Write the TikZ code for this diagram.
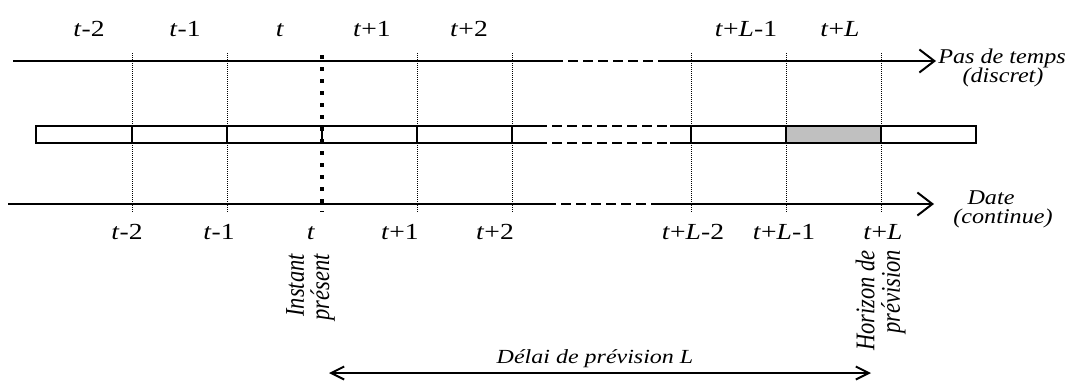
\documentclass[tikz,border=0pt]{standalone}
\usepackage{fontspec}
\setmainfont{Liberation Serif}
\newfontfamily\widefont{Liberation Serif}[FakeStretch=1.2]
\newfontfamily\sidefont{Liberation Serif}[FakeStretch=1.15]
\newfontfamily\spanfont{Liberation Serif}[FakeStretch=1.2]
\usetikzlibrary{arrows.meta}
\newcommand\tv{\textit{t}}
\newcommand\Lv{\textit{L}}
\newcommand\vlabel[2]{\scalebox{1}[1.2]{\begin{tabular}{@{}r@{}}#1\\#2\end{tabular}}}
\definecolor{cellgray}{RGB}{192,192,192}
\begin{document}
\begin{tikzpicture}[x=1pt,y=-1pt,
  lbl/.style={font=\widefont\fontsize{23}{23}\selectfont, inner sep=0pt, anchor=base},
  side/.style={font=\sidefont\fontsize{21}{19}\selectfont\itshape, inner sep=0pt, anchor=base},
  vert/.style={font=\fontsize{22.5}{18.5}\selectfont\itshape, inner sep=0pt, anchor=east, rotate=90},
  axisline/.style={line width=2pt},
  axisdash/.style={line width=2pt, dash pattern=on 10pt off 5pt},
  gridline/.style={line width=1pt, dash pattern=on 1pt off 1pt},
  nowline/.style={line width=4pt, dash pattern=on 4pt off 8pt},
  barline/.style={line width=2pt},
  axistip/.style={-{Straight Barb[length=15pt,width=23pt,line width=2pt]}},
  spantip/.style={{Straight Barb[length=13pt,width=13pt,line width=2pt]}-{Straight Barb[length=13pt,width=13pt,line width=2pt]}}
]
\useasboundingbox (0,0) rectangle (1068,381);

% coordinates
\coordinate (a0) at (13,61);
\coordinate (a1) at (553,61);
\coordinate (a2) at (660,61);
\coordinate (a3) at (936,61);
\coordinate (b0) at (8,204);
\coordinate (b1) at (546,204);
\coordinate (b2) at (653,204);
\coordinate (b3) at (934,204);
\coordinate (dA) at (329,373);
\coordinate (dB) at (871,373);

% dotted verticals
\foreach \x in {132,227,417,512,691,786,881}
  \draw[gridline] (\x,53) -- (\x,212);

% gray cell
\fill[cellgray] (786,126) rectangle (881,143);

% bar
\draw[barline] (537,126) -- (36,126) -- (36,143) -- (537,143);
\draw[axisdash] (537,126) -- (670,126);
\draw[axisdash] (537,143) -- (670,143);
\draw[barline] (670,126) -- (976,126) -- (976,143) -- (670,143);
\foreach \x in {132,227,322,417,512,691,786,881}
  \draw[barline] (\x,126) -- (\x,143);

% present instant
\draw[nowline] (322,55) -- (322,212);

% axes
\draw[axisline] (a0) -- (a1);
\draw[axisdash] (a1) -- (a2);
\draw[axisline, axistip] (a2) -- (a3);
\draw[axisline] (b0) -- (b1);
\draw[axisdash] (b1) -- (b2);
\draw[axisline, axistip] (b2) -- (b3);

% top labels
\node[lbl] (u1) at (89,36) {\tv-2};
\node[lbl] (u2) at (185,36) {\tv-1};
\node[lbl] (u3) at (280,36) {\tv};
\node[lbl] (u4) at (372,36) {\tv+1};
\node[lbl] (u5) at (469,36) {\tv+2};
\node[lbl] (u6) at (746,36) {\tv+\Lv-1};
\node[lbl] (u7) at (840,36) {\tv+\Lv};

% bottom labels
\node[lbl] (v1) at (127,239) {\tv-2};
\node[lbl] (v2) at (219,239) {\tv-1};
\node[lbl] (v3) at (311,239) {\tv};
\node[lbl] (v4) at (400,239) {\tv+1};
\node[lbl] (v5) at (495,239) {\tv+2};
\node[lbl] (v6) at (693,239) {\tv+\Lv-2};
\node[lbl] (v7) at (784,239) {\tv+\Lv-1};
\node[lbl] (v8) at (883,239) {\tv+\Lv};

% side labels
\node[side] (pas1) at (1002,63) {Pas de temps};
\node[side] (pas2) at (1003,82) {(discret)};
\node[side] (date1) at (991,204) {Date};
\node[side] (date2) at (1003,223) {(continue)};

% vertical labels
\node[vert] (inst) at (311,254) {\vlabel{Instant}{présent}};
\node[vert] (hor) at (881,250) {\vlabel{Horizon de}{prévision}};

% delay
\node[font=\spanfont\fontsize{20}{20}\selectfont\itshape, inner sep=0pt, anchor=base] (delai) at (595,363) {Délai de prévision L};
\draw[axisline, spantip] (dA) -- (dB);
\end{tikzpicture}
\end{document}
